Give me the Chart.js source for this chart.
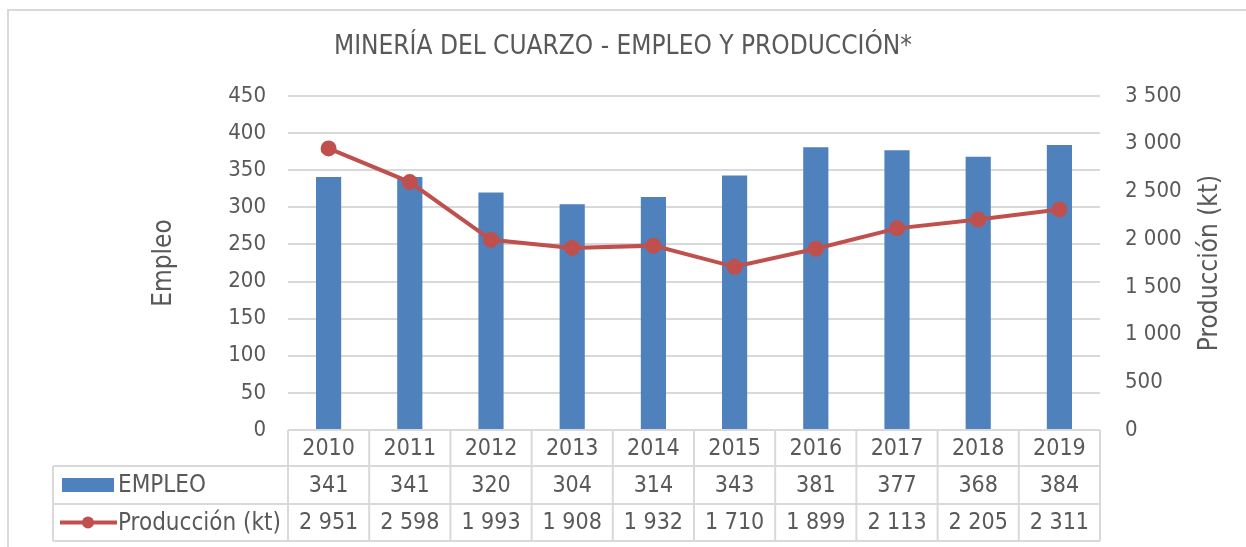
<!DOCTYPE html>
<html>
<head>
<meta charset="utf-8">
<script src="https://cdn.jsdelivr.net/npm/chart.js@4"></script>
<style>
  body { margin: 0; background: #fff; }
  #grafico { display: block; }
</style>
</head>
<body>
<canvas id="grafico" width="1246" height="547"></canvas>
<script>
const anos = ["2010", "2011", "2012", "2013", "2014", "2015", "2016", "2017", "2018", "2019"];
const empleo = [341, 341, 320, 304, 314, 343, 381, 377, 368, 384];
const produccion = [2951, 2598, 1993, 1908, 1932, 1710, 1899, 2113, 2205, 2311];

const fonte = "'DejaVu Sans Condensed', 'DejaVu Sans', sans-serif";
const cinza = "#595959";
const linhaGrade = "#d9d9d9";
const azul = "#4F81BD";
const vermelho = "#C0504D";

function miles(v) {
  return String(v).replace(/\B(?=(\d{3})+(?!\d))/g, " ");
}

// moldura, titulo do eixo direito e tabela de dados
const tabelaPlugin = {
  id: "tabela",
  beforeDraw(chart) {
    const ctx = chart.ctx;
    ctx.save();
    ctx.fillStyle = "#fff";
    ctx.fillRect(0, 0, chart.width, chart.height);
    ctx.strokeStyle = linhaGrade;
    ctx.lineWidth = 2;
    ctx.strokeRect(8, 10, 1400, 700);
    ctx.restore();
  },
  afterDraw(chart) {
    const ctx = chart.ctx;
    const x = chart.scales.x;
    const area = chart.chartArea;
    const larg = (area.right - area.left) / anos.length;
    const y0 = area.bottom;
    const y1 = y0 + 36;
    const y2 = y1 + 38;
    const y3 = y2 + 37;
    const esq = 53;

    ctx.save();
    ctx.strokeStyle = linhaGrade;
    ctx.lineWidth = 2;
    ctx.beginPath();
    // linhas horizontais
    ctx.moveTo(area.left, y0); ctx.lineTo(area.right, y0);
    ctx.moveTo(esq, y1); ctx.lineTo(area.right, y1);
    ctx.moveTo(esq, y2); ctx.lineTo(area.right, y2);
    ctx.moveTo(esq, y3); ctx.lineTo(area.right, y3);
    // linhas verticais
    ctx.moveTo(esq, y1); ctx.lineTo(esq, y3);
    for (let i = 0; i <= anos.length; i++) {
      const xx = area.left + i * larg;
      ctx.moveTo(xx, y0); ctx.lineTo(xx, y3);
    }
    ctx.stroke();

    ctx.fillStyle = cinza;
    ctx.font = "23px " + fonte;
    ctx.textAlign = "center";
    ctx.textBaseline = "middle";
    anos.forEach((ano, i) => {
      const cx = x.getPixelForValue(i);
      ctx.fillText(ano, cx, (y0 + y1) / 2 + 1);
      ctx.fillText(String(empleo[i]), cx, (y1 + y2) / 2 + 1);
      ctx.fillText(miles(produccion[i]), cx, (y2 + y3) / 2 + 1);
    });

    // legenda dentro da tabela
    ctx.fillStyle = azul;
    ctx.fillRect(62, 478, 52, 14);
    ctx.strokeStyle = vermelho;
    ctx.lineWidth = 4;
    ctx.beginPath();
    ctx.moveTo(60, (y2 + y3) / 2); ctx.lineTo(117, (y2 + y3) / 2);
    ctx.stroke();
    ctx.fillStyle = vermelho;
    ctx.beginPath();
    ctx.arc(88, (y2 + y3) / 2, 6, 0, Math.PI * 2);
    ctx.fill();
    ctx.fillStyle = cinza;
    ctx.textAlign = "left";
    ctx.font = "24px " + fonte;
    ctx.fillText("EMPLEO", 118, (y1 + y2) / 2 + 1);
    ctx.fillText("Producción (kt)", 118, (y2 + y3) / 2 + 1);

    // titulo do eixo direito
    ctx.font = "26px " + fonte;
    ctx.textAlign = "center";
    ctx.translate(1210, (area.top + area.bottom) / 2);
    ctx.rotate(-Math.PI / 2);
    ctx.fillText("Producción (kt)", 0, 0);
    ctx.restore();
  },
};

new Chart(document.getElementById("grafico"), {
  type: "bar",
  data: {
    labels: anos,
    datasets: [
      {
        type: "line",
        label: "Producción (kt)",
        data: produccion,
        yAxisID: "y1",
        borderColor: vermelho,
        backgroundColor: vermelho,
        borderWidth: 4,
        pointRadius: 6,
        pointHoverRadius: 6,
        tension: 0,
        order: 0,
      },
      {
        label: "EMPLEO",
        data: empleo,
        yAxisID: "y",
        backgroundColor: azul,
        barPercentage: 0.62,
        categoryPercentage: 0.5,
        order: 1,
      },
    ],
  },
  options: {
    responsive: false,
    animation: false,
    events: [],
    layout: { padding: { left: 0, right: 0, top: 0, bottom: 117 } },
    plugins: {
      legend: { display: false },
      tooltip: { enabled: false },
      title: {
        display: true,
        text: "MINERÍA DEL CUARZO - EMPLEO Y PRODUCCIÓN*",
        color: cinza,
        font: { family: fonte, size: 26, weight: "normal" },
        padding: { top: 32, bottom: 32.8 },
      },
    },
    scales: {
      x: {
        display: false,
        offset: true,
      },
      y: {
        position: "left",
        min: 0,
        max: 450,
        ticks: {
          stepSize: 50,
          color: cinza,
          padding: 22,
          font: { family: fonte, size: 22 },
        },
        grid: { color: linhaGrade, lineWidth: 2, drawTicks: false },
        border: { display: false },
        title: {
          display: true,
          text: "Empleo",
          color: cinza,
          font: { family: fonte, size: 26 },
          padding: { top: 149, bottom: 0 },
        },
        afterFit(scale) { scale.width = 288; },
      },
      y1: {
        position: "right",
        min: 0,
        max: 3500,
        ticks: {
          stepSize: 500,
          color: cinza,
          padding: 25,
          font: { family: fonte, size: 22 },
          callback: (v) => miles(v),
        },
        grid: { drawOnChartArea: false, drawTicks: false },
        border: { display: false },
        afterFit(scale) { scale.width = 146; },
      },
    },
  },
  plugins: [tabelaPlugin],
});
</script>
</body>
</html>
